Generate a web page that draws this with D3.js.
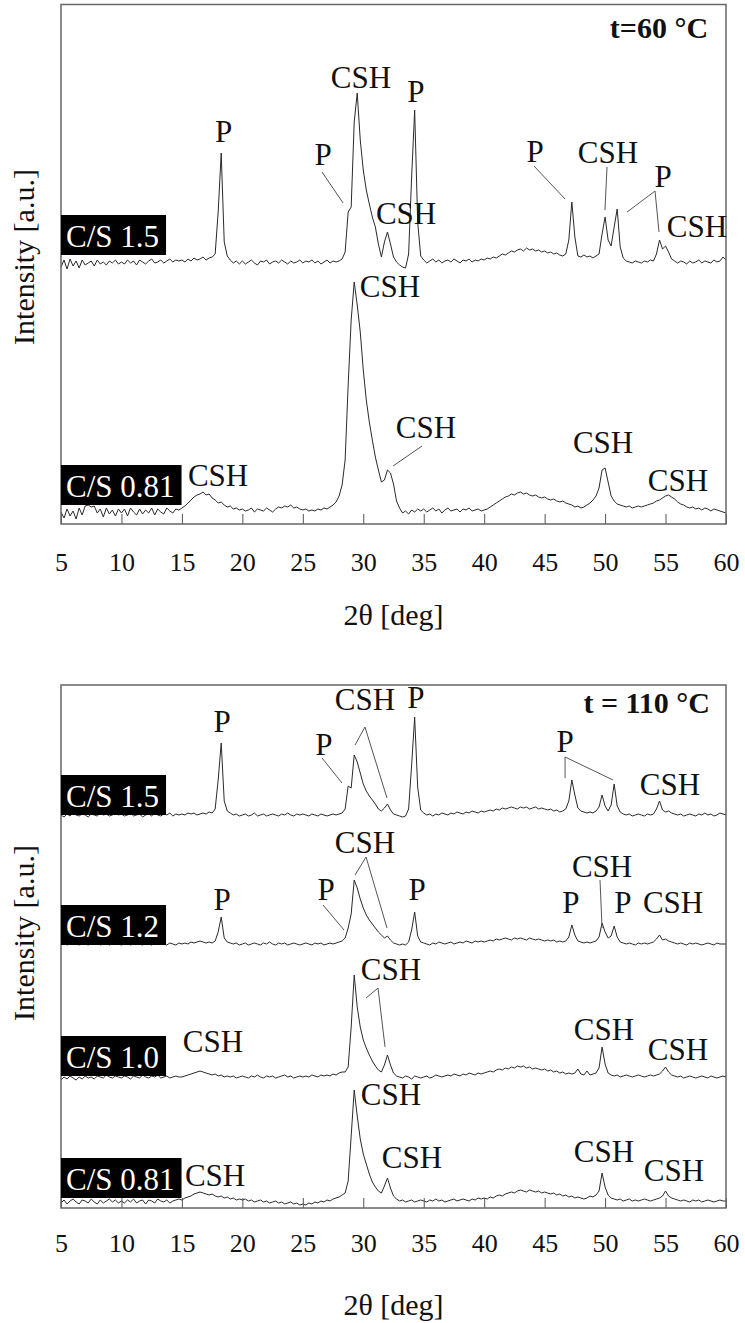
<!DOCTYPE html>
<html>
<head>
<meta charset="utf-8">
<script src="https://cdn.jsdelivr.net/npm/d3@7"></script>
<style>
  body { margin: 0; background: #fff; }
</style>
</head>
<body>
<div id="chart"></div>
<script>
// 2-theta sampling grid (deg)
const twoTheta = [
  5,5.25,5.5,5.75,6,6.25,6.5,6.75,7,7.25,7.5,7.75,8,8.25,8.5,8.75,9,9.25,9.5,9.75,
  10,10.25,10.5,10.75,11,11.25,11.5,11.75,12,12.25,12.5,12.75,13,13.25,13.5,13.75,14,14.25,14.5,14.75,
  15,15.25,15.5,15.75,16,16.25,16.5,16.75,17,17.25,17.5,17.75,18,18.25,18.5,18.75,19,19.25,19.5,19.75,
  20,20.25,20.5,20.75,21,21.25,21.5,21.75,22,22.25,22.5,22.75,23,23.25,23.5,23.75,24,24.25,24.5,24.75,
  25,25.25,25.5,25.75,26,26.25,26.5,26.75,27,27.25,27.5,27.75,28,28.25,28.5,28.75,29,29.25,29.5,29.75,
  30,30.25,30.5,30.75,31,31.25,31.5,31.75,32,32.25,32.5,32.75,33,33.25,33.5,33.75,34,34.25,34.5,34.75,
  35,35.25,35.5,35.75,36,36.25,36.5,36.75,37,37.25,37.5,37.75,38,38.25,38.5,38.75,39,39.25,39.5,39.75,
  40,40.25,40.5,40.75,41,41.25,41.5,41.75,42,42.25,42.5,42.75,43,43.25,43.5,43.75,44,44.25,44.5,44.75,
  45,45.25,45.5,45.75,46,46.25,46.5,46.75,47,47.25,47.5,47.75,48,48.25,48.5,48.75,49,49.25,49.5,49.75,
  50,50.25,50.5,50.75,51,51.25,51.5,51.75,52,52.25,52.5,52.75,53,53.25,53.5,53.75,54,54.25,54.5,54.75,
  55,55.25,55.5,55.75,56,56.25,56.5,56.75,57,57.25,57.5,57.75,58,58.25,58.5,58.75,59,59.25,59.5,59.75,
  60
];
const xTicks = [5, 10, 15, 20, 25, 30, 35, 40, 45, 50, 55, 60];

// ---- t = 60 °C, intensities (a.u.) above each pattern's own baseline
const cs15_60 = [
  -5,2,-7,3,-4,1,-6,2,-3,-1,1,-4,2,-2,0,-3,1,-1,2,-2,
  0,-2,2,-1,1,-3,2,0,-2,1,3,-1,0,2,-1,1,3,0,2,1,
  2,0,3,1,4,2,3,5,2,4,5,8,50,109,20,6,2,-1,1,-2,
  1,-2,0,2,-1,-3,1,0,2,-2,0,1,-1,2,0,-2,1,-1,0,2,
  -1,1,0,2,-1,1,-2,0,2,-1,1,0,1,3,10,50,55,140,169,122,
  92,72,58,45,35,18,5,20,30,18,5,0,-3,-5,-6,8,85,152,40,6,
  2,-1,1,3,0,2,-1,1,2,0,3,1,-1,2,1,3,0,2,1,3,
  2,4,3,5,4,6,8,7,9,11,10,12,13,11,14,12,13,11,12,10,
  11,9,10,8,9,7,6,8,22,60,25,6,5,7,5,6,4,6,8,28,
  45,22,16,35,53,15,4,1,0,-1,1,0,-1,1,0,2,1,8,22,13,
  16,10,3,1,-1,1,0,-2,1,-1,0,2,-1,1,0,-1,2,0,1,5,
  2
];
const cs081_60 = [
  -2,-8,1,-6,-1,-9,2,-5,4,5,3,4,-3,1,-7,2,-4,0,-6,1,
  -3,1,-6,2,-2,-5,1,-4,0,-3,2,-5,1,-2,-4,2,-1,-3,1,0,
  2,4,7,10,13,15,16,18,15,16,12,10,7,8,5,3,4,1,2,0,
  1,-1,0,2,-2,1,0,-1,2,0,-2,1,3,2,4,3,5,2,3,1,
  0,1,-1,0,-1,1,0,2,1,3,5,8,14,25,50,125,190,228,205,178,
  140,110,88,70,53,40,28,30,40,37,26,9,2,-3,-1,-4,0,-2,1,-1,
  1,-2,0,2,-1,1,-3,0,2,-1,0,1,-2,1,0,2,-1,0,1,-1,
  0,1,3,5,7,9,11,13,14,16,15,17,18,16,17,15,14,15,13,12,
  13,11,10,11,9,8,9,7,6,5,3,4,2,3,5,7,10,14,22,40,
  42,28,14,9,6,5,4,3,4,2,3,4,3,4,5,6,7,9,10,12,
  14,15,13,11,8,6,5,3,2,3,1,2,0,2,1,-1,1,0,-1,-2,
  -3
];
const samples60 = ["C/S 1.5", "C/S 0.81"];
const offsets60 = [262, 14];
const boxBottom60 = [269, 19];
const labels60 = [
  ["P", 18.44, 382], ["P", 26.67, 359], ["CSH", 29.81, 436], ["P", 34.36, 422],
  ["CSH", 33.54, 300], ["P", 44.21, 362], ["CSH", 50.24, 361], ["P", 54.79, 337],
  ["CSH", 57.6, 287],
  ["CSH", 32.21, 227], ["CSH", 35.19, 86], ["CSH", 17.99, 38], ["CSH", 49.83, 71],
  ["CSH", 56.03, 33]
];
const leaders60 = [
  [26.59, 352, 28.33, 321],
  [44.12, 358, 46.69, 325],
  [50.16, 357, 49.99, 314],
  [54.13, 333, 51.82, 312],
  [54.13, 333, 54.46, 292],
  [34.86, 78, 32.46, 58]
];

// ---- t = 110 °C
const cs15_110 = [
  0,-2,1,-1,2,0,-1,1,0,-2,1,0,-1,2,0,1,-1,0,2,0,
  1,-1,0,2,-1,0,1,-2,0,1,-1,2,0,-1,1,0,2,-1,1,0,
  1,0,2,1,2,0,1,2,1,3,2,6,35,72,14,4,2,0,1,-1,
  0,1,-1,0,2,-1,0,1,-1,0,1,0,-1,1,0,2,0,-1,1,0,
  1,0,-1,1,0,-1,1,0,-1,0,1,0,1,2,6,29,27,60,53,42,
  31,24,19,15,11,6,4,7,11,5,1,0,-1,-2,-1,6,50,98,28,5,
  2,0,1,-1,1,0,2,1,0,2,1,3,2,1,3,2,4,3,2,4,
  3,4,5,4,6,5,7,6,7,8,7,6,8,7,8,6,7,8,6,7,
  6,5,6,4,5,3,4,6,14,35,20,7,4,3,2,3,2,4,8,20,
  9,4,10,31,9,3,1,0,1,-1,0,1,0,-1,1,0,1,6,14,5,
  3,4,2,1,0,1,-1,0,1,0,-1,1,0,2,0,1,-1,0,2,1,
  0
];
const cs12_110 = [
  0,1,-1,0,2,0,-1,1,0,-1,1,0,2,-1,0,1,-1,0,1,0,
  -1,0,1,-1,0,2,0,-1,1,0,-1,1,0,2,0,-1,1,0,-1,1,
  0,1,0,2,1,2,3,2,1,2,1,3,12,27,6,2,1,0,1,-1,
  0,1,-1,0,1,0,-1,1,0,2,0,-1,1,0,1,-1,0,1,0,-1,
  0,1,0,-1,1,0,1,-1,0,1,0,1,2,3,6,16,30,64,56,45,
  36,29,24,20,16,12,9,6,8,4,1,0,-1,0,-1,2,14,32,8,2,
  1,0,-1,1,0,2,1,0,1,2,0,1,2,1,3,2,1,3,2,3,
  2,3,4,3,5,4,5,6,5,4,6,5,6,5,4,6,5,4,5,4,
  3,4,3,4,2,3,2,3,7,19,9,3,2,1,2,1,2,3,7,21,
  12,6,8,18,7,2,1,0,1,0,-1,1,0,1,0,1,2,5,9,4,
  5,3,2,1,0,1,0,-1,1,0,1,0,-1,0,1,0,-1,1,0,0,
  0
];
const cs10_110 = [
  -3,0,-2,1,-1,-3,0,-2,1,-1,0,-2,1,0,-1,2,0,-1,1,0,
  -1,1,0,-2,1,0,-1,2,0,-1,1,0,2,-1,0,1,-1,0,1,0,
  0,1,2,3,4,5,6,5,4,3,2,3,1,2,0,1,0,1,-1,0,
  1,0,-1,1,0,2,0,-1,1,0,1,-1,0,1,2,0,1,-1,0,1,
  0,1,0,2,1,0,2,1,2,1,3,2,4,5,5,10,50,102,70,50,
  37,29,22,16,11,7,5,12,22,12,4,1,0,-1,1,0,-2,1,0,-1,
  0,1,-1,0,2,1,0,1,2,1,3,2,1,3,2,4,3,2,4,3,
  4,5,6,5,7,8,7,9,8,10,9,11,10,11,9,10,8,9,8,7,
  8,6,7,5,6,4,5,3,4,3,4,8,3,2,6,2,3,4,9,30,
  13,4,2,1,2,0,1,2,1,0,1,2,1,0,1,2,1,2,3,6,
  10,5,2,1,0,1,-1,0,1,0,-1,0,1,0,-1,1,0,-1,0,1,
  0
];
const cs081_110 = [
  -2,1,-3,0,2,-1,-3,1,0,-2,2,-1,-3,1,-2,0,2,-1,1,-2,
  0,-2,1,-1,2,-2,0,1,-3,1,0,-2,2,0,-1,1,-2,0,1,2,
  1,3,4,5,7,8,9,8,7,6,7,5,4,5,3,4,2,3,1,2,
  1,2,0,1,-1,0,1,-1,0,-2,-1,0,-2,-1,-3,-2,-1,-3,-2,-4,
  -3,-4,-2,-3,-1,-2,0,-1,1,0,2,3,4,6,8,20,65,111,85,62,
  47,37,27,19,14,10,8,15,23,13,5,2,0,1,-1,0,1,-1,0,1,
  0,-1,1,0,2,0,1,-1,0,1,2,0,1,2,1,0,2,1,3,2,
  3,2,4,3,5,6,5,7,8,9,8,10,11,10,9,11,10,9,10,8,
  9,8,7,8,6,7,5,6,4,5,3,4,3,2,3,5,4,6,10,28,
  14,6,3,2,1,2,0,1,2,0,1,0,1,2,1,0,1,2,3,5,
  10,5,3,2,1,0,1,0,-1,1,0,1,-1,0,1,0,-1,0,1,0,
  0
];
const samples110 = ["C/S 1.5", "C/S 1.2", "C/S 1.0", "C/S 0.81"];
const offsets110 = [393, 264, 131, 7];
const boxBottom110 = [393, 263, 132, 10];
const labels110 = [
  ["P", 18.32, 476], ["P", 26.75, 453], ["CSH", 30.14, 498], ["P", 34.36, 500],
  ["P", 46.69, 456], ["CSH", 55.37, 413],
  ["CSH", 30.14, 355], ["P", 26.92, 308], ["P", 18.32, 298], ["P", 34.45, 308],
  ["CSH", 49.75, 331], ["P", 47.18, 295], ["P", 51.48, 295], ["CSH", 55.62, 295],
  ["CSH", 32.29, 228], ["CSH", 17.57, 156], ["CSH", 49.91, 168], ["CSH", 56.03, 148],
  ["CSH", 32.29, 103], ["CSH", 34.03, 40], ["CSH", 17.74, 22], ["CSH", 49.91, 46],
  ["CSH", 55.70, 27]
];
const leaders110 = [
  [26.59, 450, 28.24, 425],
  [30.14, 481, 29.32, 463],
  [30.14, 481, 31.96, 410],
  [46.69, 451, 46.69, 430],
  [46.69, 451, 50.66, 428],
  [30.23, 351, 29.32, 333],
  [30.23, 351, 31.96, 280],
  [26.67, 303, 28.41, 278],
  [49.58, 328, 49.75, 280],
  [31.22, 220, 30.23, 210],
  [31.22, 220, 31.80, 161]
];

// ---- layout
const width = 745;
const height = 1323;
const serif = "'Liberation Serif', 'Times New Roman', Times, serif";

const svg = d3.select("#chart").append("svg")
  .attr("width", width)
  .attr("height", height);

const x = d3.scaleLinear().domain([5, 60]).range([61, 726]);

const panels = [
  { top: 4.5, bottom: 524, tickY: 571, titleY: 625, yTitleAt: 257,
    series: [cs15_60, cs081_60], samples: samples60, offsets: offsets60,
    boxes: boxBottom60, labels: labels60, leaders: leaders60,
    heading: "t=60 °C", headingAt: [58.52, 486] },
  { top: 685, bottom: 1208, tickY: 1252, titleY: 1315, yTitleAt: 933,
    series: [cs15_110, cs12_110, cs10_110, cs081_110], samples: samples110, offsets: offsets110,
    boxes: boxBottom110, labels: labels110, leaders: leaders110,
    heading: "t = 110 °C", headingAt: [58.68, 495] }
];

panels.forEach(p => {
  const y = d3.scaleLinear().domain([0, p.bottom - p.top]).range([p.bottom, p.top]);
  const g = svg.append("g");

  // patterns
  p.series.forEach((vals, k) => {
    const line = d3.line()
      .x((d, i) => x(twoTheta[i]))
      .y(d => y(d + p.offsets[k]));
    g.append("path")
      .attr("d", line(vals))
      .attr("fill", "none")
      .attr("stroke", "#2a2a2a")
      .attr("stroke-width", 1)
      .attr("stroke-linejoin", "round");
  });

  // inward ticks + labels
  const axis = d3.axisBottom(x)
    .tickValues(xTicks)
    .tickSizeInner(-10)
    .tickSizeOuter(0)
    .tickFormat(d3.format("d"));
  const gAx = g.append("g")
    .attr("transform", `translate(0,${p.bottom})`)
    .call(axis);
  gAx.select(".domain").remove();
  gAx.selectAll(".tick line").attr("stroke", "#555");
  gAx.selectAll(".tick text")
    .attr("y", p.tickY - p.bottom)
    .attr("dy", null)
    .attr("fill", "#111")
    .style("font-family", serif)
    .style("font-size", "26px");

  // frame
  g.append("rect")
    .attr("x", x(5))
    .attr("y", p.top)
    .attr("width", x(60) - x(5))
    .attr("height", p.bottom - p.top)
    .attr("fill", "none")
    .attr("stroke", "#666")
    .attr("stroke-width", 1.5);

  // sample tags
  p.samples.forEach((name, k) => {
    const tag = g.append("g");
    const t = tag.append("text")
      .attr("x", x(5) + 5)
      .attr("y", y(p.boxes[k]) - 8)
      .attr("fill", "#fff")
      .style("font-family", serif)
      .style("font-size", "31px")
      .text(name);
    const w = t.node().getComputedTextLength();
    tag.insert("rect", "text")
      .attr("x", x(5))
      .attr("y", y(p.boxes[k]) - 40)
      .attr("width", w + 12)
      .attr("height", 40)
      .attr("fill", "#000");
  });

  // leader lines
  g.selectAll(".leader")
    .data(p.leaders)
    .enter()
    .append("line")
    .attr("x1", d => x(d[0]))
    .attr("y1", d => y(d[1]))
    .attr("x2", d => x(d[2]))
    .attr("y2", d => y(d[3]))
    .attr("stroke", "#555")
    .attr("stroke-width", 1);

  // phase labels
  g.selectAll(".phase")
    .data(p.labels)
    .enter()
    .append("text")
    .attr("x", d => x(d[1]))
    .attr("y", d => y(d[2]))
    .attr("text-anchor", "middle")
    .attr("fill", "#111")
    .style("font-family", serif)
    .style("font-size", "31px")
    .text(d => d[0]);

  // temperature heading
  g.append("text")
    .attr("x", x(p.headingAt[0]))
    .attr("y", y(p.headingAt[1]))
    .attr("text-anchor", "end")
    .attr("fill", "#111")
    .style("font-family", serif)
    .style("font-size", "30px")
    .style("font-weight", "bold")
    .text(p.heading);

  // axis titles
  g.append("text")
    .attr("x", (x(5) + x(60)) / 2)
    .attr("y", p.titleY)
    .attr("text-anchor", "middle")
    .attr("fill", "#111")
    .style("font-family", serif)
    .style("font-size", "30px")
    .text("2θ [deg]");

  g.append("text")
    .attr("transform", `translate(34,${p.yTitleAt}) rotate(-90)`)
    .attr("text-anchor", "middle")
    .attr("fill", "#111")
    .style("font-family", serif)
    .style("font-size", "30px")
    .text("Intensity [a.u.]");
});
</script>
</body>
</html>
